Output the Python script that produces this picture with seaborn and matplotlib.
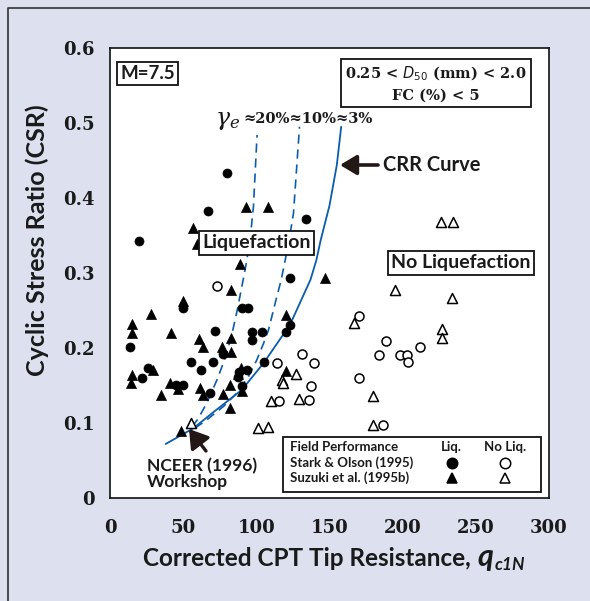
import numpy as np
import pandas as pd
import matplotlib
matplotlib.use("Agg")
import matplotlib.pyplot as plt
import seaborn as sns
from matplotlib.patches import Rectangle
from matplotlib.lines import Line2D

# ---------------- data ----------------
# Stark & Olson (1995) - liquefied (filled circles)
so_liq_q = [79.8, 66.8, 20.0, 134.1, 123.1, 50.1, 90.0, 94.4, 123.1, 120.4, 71.8, 96.9,
            103.8, 96.9, 14.0, 77.0, 55.4, 70.7, 62.1, 105.5, 25.8, 22.0, 45.0, 50.2,
            93.3, 88.2, 87.6, 90.0, 68.2]
so_liq_csr = [0.433, 0.383, 0.343, 0.372, 0.294, 0.253, 0.253, 0.253, 0.231, 0.222, 0.223, 0.222,
              0.222, 0.211, 0.201, 0.192, 0.181, 0.182, 0.171, 0.182, 0.173, 0.160, 0.151, 0.151,
              0.171, 0.168, 0.161, 0.150, 0.140]
# Suzuki et al. (1995b) - liquefied (filled triangles)
su_liq_q = [92.8, 107.9, 56.8, 59.3, 88.9, 82.8, 147.0, 49.7, 28.2, 120.4, 15.3, 15.0, 41.7,
            61.1, 63.8, 82.7, 76.2, 82.7, 29.6, 14.8, 14.5, 41.0, 46.5, 34.7, 61.3, 63.4,
            77.1, 81.8, 90.0, 81.8, 89.8, 87.3, 120.0, 48.3]
su_liq_csr = [0.388, 0.388, 0.360, 0.338, 0.312, 0.278, 0.294, 0.263, 0.246, 0.244, 0.232, 0.220, 0.220,
              0.212, 0.201, 0.214, 0.202, 0.195, 0.171, 0.164, 0.153, 0.154, 0.146, 0.137, 0.147, 0.137,
              0.139, 0.151, 0.143, 0.120, 0.174, 0.165, 0.169, 0.090]
# Stark & Olson (1995) - no liquefaction (open circles)
so_noliq_q = [73.0, 169.9, 188.8, 184.0, 198.4, 202.9, 203.6, 212.0, 170.5, 186.3,
              113.8, 131.3, 139.7, 137.3, 115.8, 136.2]
so_noliq_csr = [0.283, 0.243, 0.210, 0.191, 0.191, 0.191, 0.181, 0.201, 0.160, 0.098,
                0.180, 0.192, 0.180, 0.150, 0.130, 0.131]
# Suzuki et al. (1995b) - no liquefaction (open triangles)
su_noliq_q = [166.9, 194.5, 233.7, 226.4, 234.1, 226.9, 226.9, 179.4, 179.4, 117.8, 118.0,
              126.8, 109.8, 129.4, 101.0, 108.3, 55.3]
su_noliq_csr = [0.234, 0.278, 0.267, 0.368, 0.368, 0.225, 0.213, 0.136, 0.098, 0.158, 0.153,
                0.166, 0.130, 0.132, 0.094, 0.095, 0.100]

# CRR curve (solid) and gamma_e contours (dashed)
crr_q = [38, 48, 57, 71, 90, 105, 123, 137, 141, 144, 150, 155, 158]
crr_csr = [0.072, 0.083, 0.093, 0.115, 0.144, 0.180, 0.231, 0.291, 0.317, 0.344, 0.390, 0.444, 0.495]
g10_q = [58, 66, 77.5, 86.7, 94.6, 100.3, 104.9, 108.3, 112.9, 117, 119.7, 122.5, 125.4, 129.5]
g10_csr = [0.093, 0.104, 0.122, 0.140, 0.162, 0.184, 0.206, 0.224, 0.260, 0.291, 0.317, 0.345, 0.380, 0.495]
g20_q = [56, 60, 66, 73, 79, 83.5, 87, 91, 93.5, 96, 98, 100.5]
g20_csr = [0.095, 0.105, 0.126, 0.157, 0.188, 0.220, 0.251, 0.291, 0.317, 0.350, 0.388, 0.484]

x_ticks = [0, 50, 100, 150, 200, 250, 300]
y_ticks = [0, 0.1, 0.2, 0.3, 0.4, 0.5, 0.6]
y_tick_labels = ["0", "0.1", "0.2", "0.3", "0.4", "0.5", "0.6"]

# ---------------- styling ----------------
sns.set_style("white")
plt.rcParams["font.family"] = ["Lato", "DejaVu Sans"]

BG = "#dde0ee"
BLUE = "#0b5cad"
INK = "#1a1a1a"
SANS = ["Lato", "DejaVu Sans"]
SERIF = ["DejaVu Serif"]

W, H = 590, 601
def fx(px):
    return px / W
def fy(py):
    return 1 - py / H

fig = plt.figure(figsize=(W / 100, H / 100), dpi=100, facecolor=BG)
ax = fig.add_axes([fx(110), fy(498), (549 - 110) / W, (498 - 48) / H])
ax.set_facecolor("white")

# curves
sns.lineplot(x=crr_q, y=crr_csr, sort=False, estimator=None, ax=ax, color=BLUE, lw=1.3)
sns.lineplot(x=g10_q, y=g10_csr, sort=False, estimator=None, ax=ax, color=BLUE, lw=1.2,
             linestyle=(0, (5.5, 3.5)))
sns.lineplot(x=g20_q, y=g20_csr, sort=False, estimator=None, ax=ax, color=BLUE, lw=1.2,
             linestyle=(0, (5.5, 3.5)))

# points
sns.scatterplot(x=so_liq_q, y=so_liq_csr, marker="o", s=42, color="black", edgecolor="black",
                linewidth=0.5, ax=ax, zorder=3)
sns.scatterplot(x=su_liq_q, y=su_liq_csr, marker="^", s=52, color="black", edgecolor="black",
                linewidth=0.5, ax=ax, zorder=3)
sns.scatterplot(x=so_noliq_q, y=so_noliq_csr, marker="o", s=42, color="white", edgecolor="black",
                linewidth=1.1, ax=ax, zorder=3)
sns.scatterplot(x=su_noliq_q, y=su_noliq_csr, marker="^", s=52, color="white", edgecolor="black",
                linewidth=1.1, ax=ax, zorder=3)

ax.set_xlim(0, 300)
ax.set_ylim(0, 0.6)
ax.set_xticks(x_ticks)
ax.set_xticklabels([str(v) for v in x_ticks])
ax.set_yticks(y_ticks)
ax.set_yticklabels(y_tick_labels)
ax.set_xlabel("")
ax.set_ylabel("")
for s in ax.spines.values():
    s.set_color("#111111")
    s.set_linewidth(1.2)
ax.tick_params(axis="both", direction="inout", length=10, width=1.0, colors="#111111")
ax.tick_params(axis="x", pad=10)
ax.tick_params(axis="y", pad=6)
for lbl in ax.get_xticklabels() + ax.get_yticklabels():
    lbl.set_fontfamily(SERIF)
    lbl.set_fontweight("bold")
    lbl.set_fontsize(13)
    lbl.set_color(INK)

# outer frame lines
fig.add_artist(Line2D([fx(7.5), fx(7.5), 1.0], [0.0, fy(7.5), fy(7.5)],
                      transform=fig.transFigure, color="#333333", lw=1.2))

# axis labels
fig.text(fx(37), fy(240), "Cyclic Stress Ratio (CSR)", rotation=90, ha="center", va="center",
         fontsize=18, fontweight="bold", family=SANS, color=INK)
t1 = fig.text(fx(143), fy(566), "Corrected CPT Tip Resistance,", ha="left", va="baseline",
              fontsize=17.5, fontweight="bold", family=SANS, color=INK)
fig.canvas.draw()
r = fig.canvas.get_renderer()
bb = t1.get_window_extent(r)
t2 = fig.text((bb.x1 + 7) / W, fy(566), "q", ha="left", va="baseline", fontsize=22,
              fontweight="bold", fontstyle="italic", family=SANS, color=INK)
fig.canvas.draw()
bb2 = t2.get_window_extent(r)
fig.text((bb2.x1 + 1) / W, fy(570), "c1N", ha="left", va="baseline", fontsize=12.5,
         fontweight="bold", fontstyle="italic", family=SANS, color=INK)

box = dict(boxstyle="square,pad=0.18", fc="white", ec="#111111", lw=1.3)

fig.text(fx(147.5), fy(73.5), "M=7.5", ha="center", va="center", fontsize=13.5,
         fontweight="bold", family=SANS, bbox=box, zorder=5, color=INK)
fig.text(fx(436), fy(83.5), "0.25 < $D_{50}$ (mm) < 2.0\nFC (%) < 5", ha="center", va="center",
         multialignment="center", fontsize=10.5, fontweight="bold", family=SERIF,
         math_fontfamily="dejavusans", linespacing=1.45,
         bbox=dict(boxstyle="square,pad=0.3", fc="white", ec="#111111", lw=1.3), zorder=5,
         color=INK)
fig.text(fx(228), fy(121), r"$\gamma_e$", ha="center", va="center", fontsize=17,
         math_fontfamily="dejavuserif", color=INK)
fig.text(fx(243), fy(119), "≈20%≈10%≈3%", ha="left", va="center", fontsize=10.5,
         fontweight="bold", family=SERIF, color=INK)
fig.text(fx(383), fy(165), "CRR Curve", ha="left", va="center", fontsize=14.5,
         fontweight="bold", family=SANS, color=INK)
fig.text(fx(256.5), fy(242.5), "Liquefaction", ha="center", va="center", fontsize=14,
         fontweight="bold", family=SANS, bbox=box, zorder=5, color=INK)
fig.text(fx(461), fy(262.5), "No Liquefaction", ha="center", va="center", fontsize=14,
         fontweight="bold", family=SANS, bbox=box, zorder=5, color=INK)
fig.text(fx(147), fy(474), "NCEER (1996)\nWorkshop", ha="left", va="center", fontsize=12.5,
         fontweight="bold", family=SANS, linespacing=1.05, color=INK)

# arrows
ax.annotate("", xy=(fx(340), fy(165)), xytext=(fx(378), fy(165)),
            xycoords="figure fraction", textcoords="figure fraction",
            arrowprops=dict(arrowstyle="-|>,head_length=0.5,head_width=0.3", lw=2.6,
                            color="#231815", mutation_scale=20, shrinkA=0, shrinkB=0))
ax.annotate("", xy=(fx(189), fy(429)), xytext=(fx(206), fy(451)),
            xycoords="figure fraction", textcoords="figure fraction",
            arrowprops=dict(arrowstyle="-|>,head_length=0.55,head_width=0.35", lw=2.4,
                            color="#231815", mutation_scale=20, shrinkA=0, shrinkB=0))

# legend block
fig.add_artist(Rectangle((fx(283), fy(492)), (541 - 283) / W, (492 - 437) / H,
                         transform=fig.transFigure, fc="white", ec="#111111", lw=1.3, zorder=4))
lg = dict(fontsize=9.5, fontweight="bold", family=SANS, va="center", color=INK, zorder=6)
fig.text(fx(290), fy(447), "Field Performance", ha="left", **lg)
fig.text(fx(451), fy(447), "Liq.", ha="center", **lg)
fig.text(fx(505), fy(447), "No Liq.", ha="center", **lg)
fig.text(fx(290), fy(462.5), "Stark & Olson (1995)", ha="left", **lg)
fig.text(fx(290), fy(477.5), "Suzuki et al. (1995b)", ha="left", **lg)
for (mx, my, mk, fc) in [(451.5, 463, "o", "black"), (505, 463, "o", "white"),
                         (451.5, 478, "^", "black"), (505, 478, "^", "white")]:
    fig.add_artist(Line2D([fx(mx)], [fy(my)], marker=mk, markersize=7.5, mfc=fc, mec="black",
                          mew=1.1, transform=fig.transFigure, zorder=6))

fig.savefig("out.png", dpi=100, facecolor=fig.get_facecolor())
